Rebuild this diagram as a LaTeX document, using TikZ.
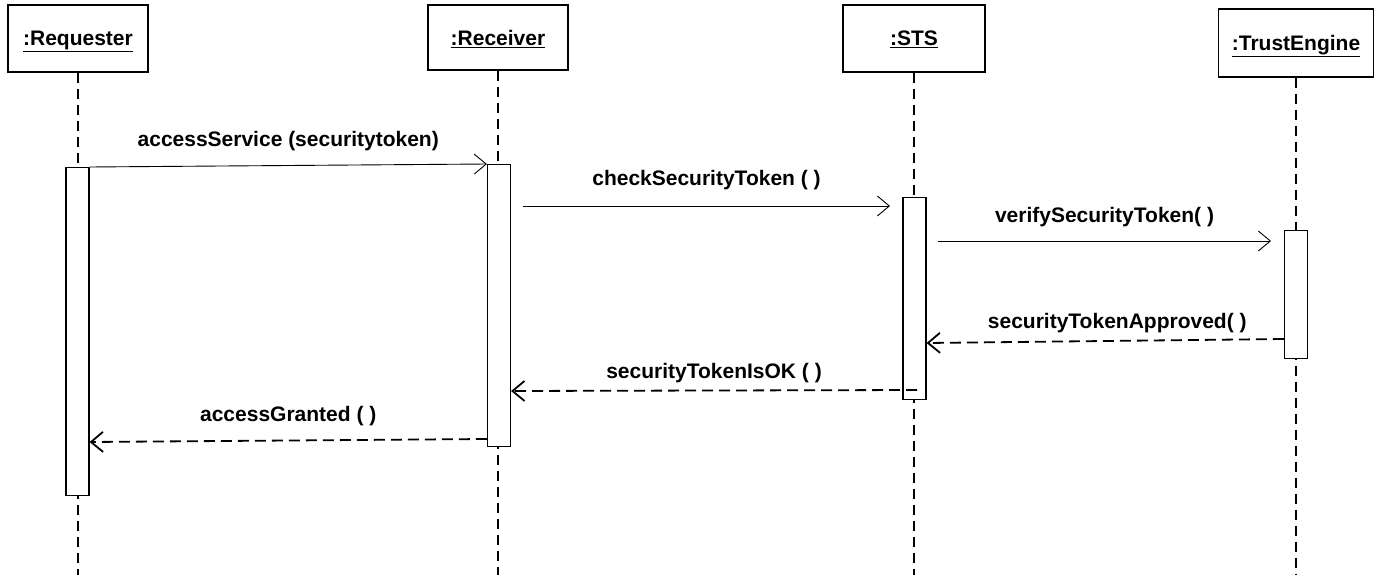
\documentclass[tikz,border=0pt]{standalone}
\usepackage{fontspec}
\setmainfont{Liberation Sans}
\usetikzlibrary{positioning}
\usetikzlibrary{arrows.meta}
\newcommand{\diagfont}{\fontsize{21}{25}\selectfont\bfseries}
\tikzset{
  object/.style={draw, line width=1.2pt, font=\diagfont, text depth=0pt},
  activation/.style={draw, fill=white, line width=1.2pt, minimum width=23pt, inner sep=0pt, anchor=north},
  lifeline/.style={line width=1.9pt, dash pattern=on 10pt off 6pt},
  call/.style={-{Straight Barb[length=12pt,width=20pt]}, line width=0.9pt},
  reply/.style={call, line width=1.8pt, dash pattern=on 11pt off 6pt},
  msg/.style={font=\diagfont, midway}
}

\begin{document}
\begin{tikzpicture}[x=1pt, y=-1pt]

        \useasboundingbox (0,0) rectangle (1378,575);

        % Objects
        \node[object, minimum width=140pt, minimum height=67pt] (req) at (78,38.5) {\underline{:Requester}};
        \node[object, minimum width=140pt, minimum height=65pt] (rec) at (498,37.5) {\underline{:Receiver}};
        \node[object, minimum width=142pt, minimum height=67pt] (sts) at (914,38.5) {\underline{:STS}};
        \node[object, minimum width=155pt, minimum height=68pt] (te) at (1296,43) {\underline{:TrustEngine}};

        % Lifelines
        \draw[lifeline] (req.south) -- (req.south |- 0,575);
        \draw[lifeline] (rec.south) -- (rec.south |- 0,575);
        \draw[lifeline] (sts.south) -- (sts.south |- 0,575);
        \draw[lifeline] (te.south) -- (te.south |- 0,575);

        % Activations
        \node[activation, minimum height=328pt] (reqAct) at (77.5,167) {};
        \node[activation, minimum height=282pt] (recAct) at (499,164) {};
        \node[activation, minimum height=202pt] (stsAct) at (914.5,197) {};
        \node[activation, minimum height=128pt] (teAct) at (1296,230) {};

        % Message end points
        \coordinate (chkFrom) at (523,206);
        \coordinate (chkTo) at (890,206);
        \coordinate (verFrom) at (938,241);
        \coordinate (verTo) at (1271,241);
        \coordinate (okFrom) at (917,390);

        % Calls
        \draw[call] (reqAct.north east) -- (recAct.north west)
            node[msg, above=10.5pt] (lblAccess) {accessService (securitytoken)};
        \draw[call] (chkFrom) -- (chkTo)
            node[msg, above=12.5pt] (lblCheck) {checkSecurityToken ( )};
        \draw[call] (verFrom) -- (verTo)
            node[msg, above=10.5pt] (lblVerify) {verifySecurityToken( )};

        % Replies
        \draw[reply] (teAct.west |- 0,339) -- (stsAct.east |- 0,343)
            node[msg, above=3.5pt, xshift=12pt] (lblApproved) {securityTokenApproved( )};
        \draw[reply] (okFrom) -- (recAct.east |- 0,391)
            node[msg, above=3pt] (lblOK) {securityTokenIsOK ( )};
        \draw[reply] (recAct.west |- 0,439) -- (reqAct.east |- 0,442)
            node[msg, above=10.5pt] (lblGranted) {accessGranted ( )};

    \end{tikzpicture}
\end{document}
